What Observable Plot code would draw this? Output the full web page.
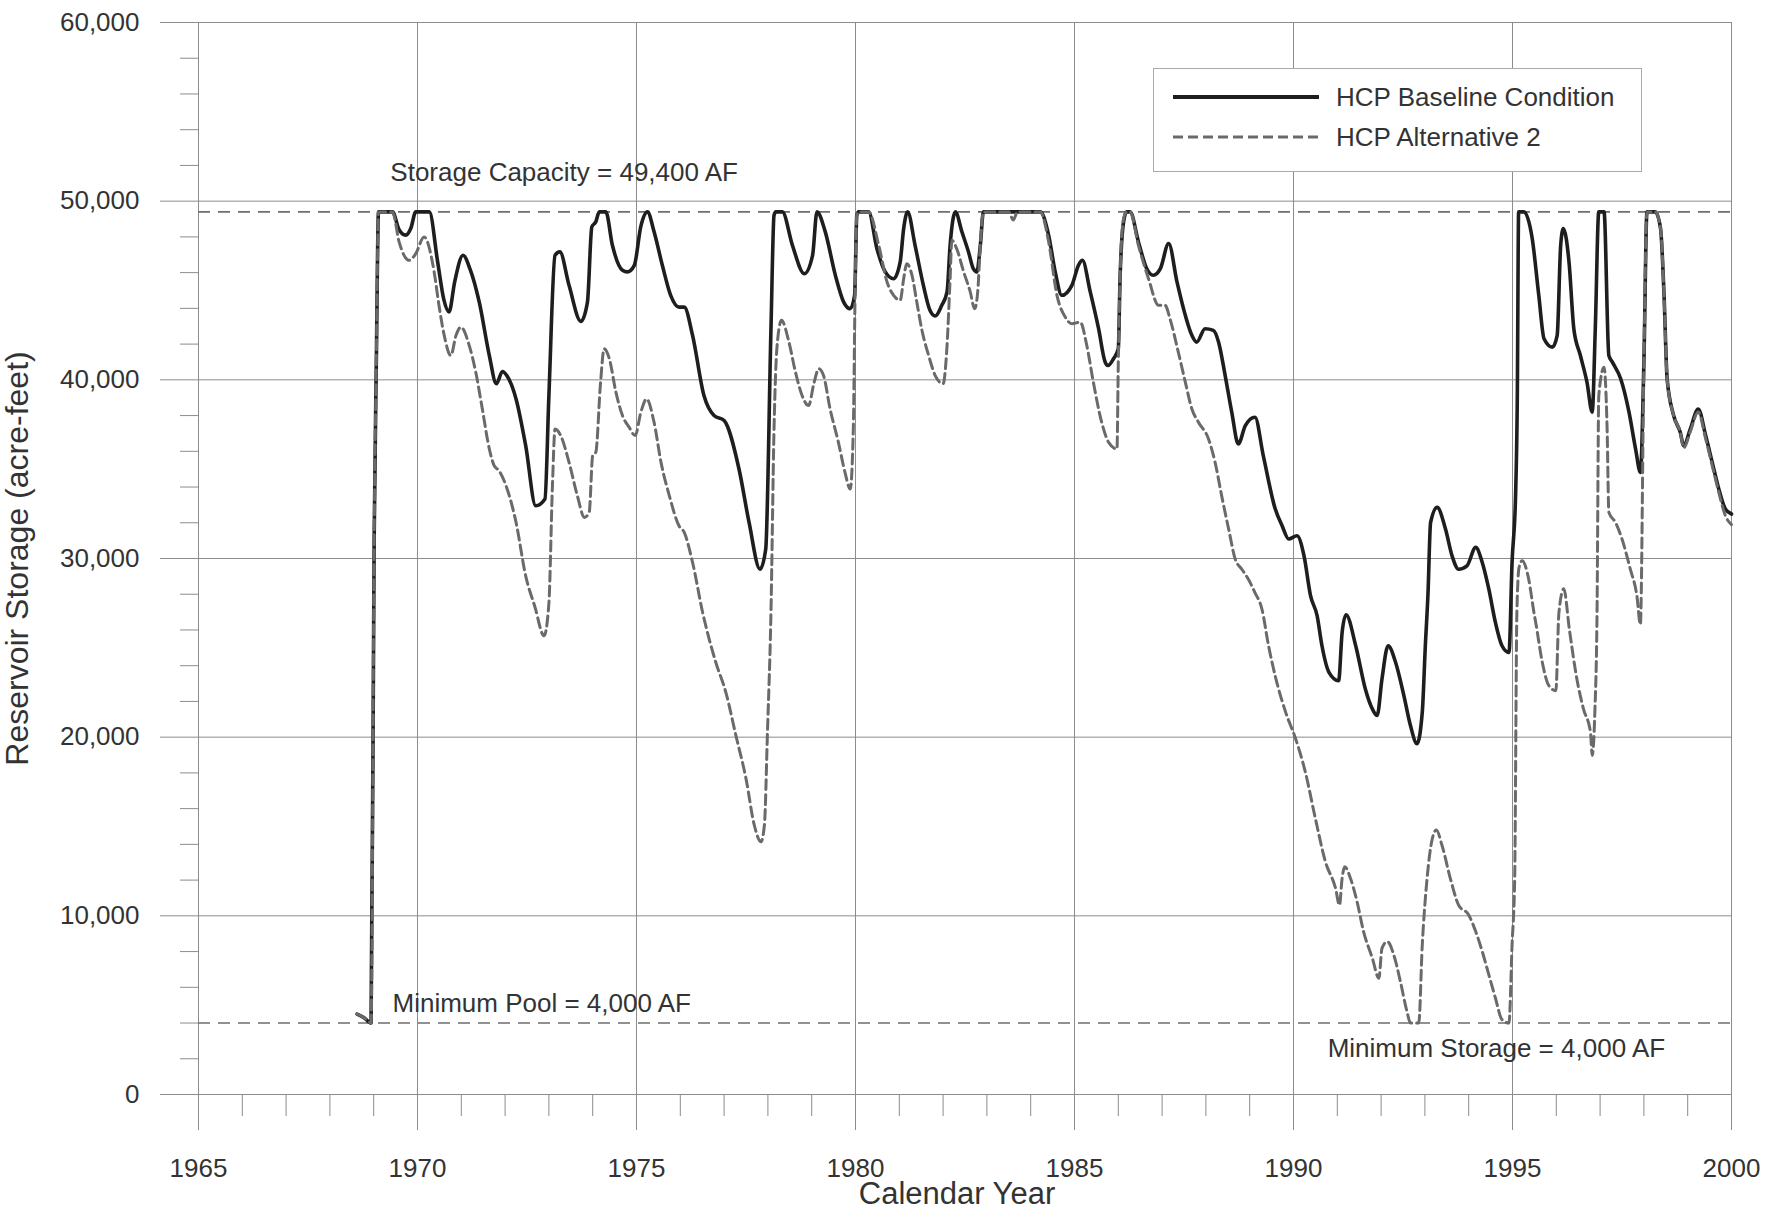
<!DOCTYPE html>
<html><head><meta charset="utf-8">
<script src="https://cdn.jsdelivr.net/npm/d3@7"></script>
<script src="https://cdn.jsdelivr.net/npm/@observablehq/plot@0.6"></script>
<style>
body{margin:0;background:#fff;}
#wrap{position:relative;width:1768px;height:1215px;font-family:"Liberation Sans",Arial,sans-serif;color:#333;}
#legend{position:absolute;left:1153px;top:68px;width:489px;height:104px;border:1px solid #aaa;background:#fff;box-sizing:border-box;}
#legend .row{position:absolute;left:0;height:30px;width:480px;}
#legend svg{position:absolute;left:19px;top:0;}
#legend span{position:absolute;left:182px;top:0;font-size:26px;line-height:30px;white-space:nowrap;color:#333;}
</style></head><body>
<div id="wrap"><div id="chart"></div>
<div id="legend">
 <div class="row" style="top:13px"><svg width="146" height="30"><line x1="0" x2="146" y1="15" y2="15" stroke="#1e1e1e" stroke-width="4"/></svg><span>HCP Baseline Condition</span></div>
 <div class="row" style="top:53px"><svg width="146" height="30"><line x1="0" x2="146" y1="15" y2="15" stroke="#6a6a6a" stroke-width="3" stroke-dasharray="10,5"/></svg><span>HCP Alternative 2</span></div>
</div>
</div>
<script>
// ---- data ----
const baseYears = [1968.62,1968.78,1968.90,1968.94,1969.01,1969.06,1969.11,1969.43,1969.58,1969.73,1969.85,1969.96,1970.27,1970.46,1970.60,1970.72,1970.85,1971.04,1971.20,1971.41,1971.64,1971.80,1971.94,1972.05,1972.25,1972.47,1972.70,1972.91,1973.00,1973.14,1973.25,1973.46,1973.73,1973.88,1973.98,1974.07,1974.15,1974.30,1974.45,1974.68,1974.79,1974.95,1975.10,1975.25,1975.40,1975.59,1975.78,1975.97,1976.09,1976.28,1976.54,1976.77,1977.00,1977.34,1977.57,1977.82,1977.95,1978.07,1978.14,1978.18,1978.33,1978.56,1978.83,1979.02,1979.12,1979.31,1979.54,1979.73,1979.88,1979.98,1980.03,1980.07,1980.30,1980.49,1980.68,1980.87,1981.02,1981.10,1981.19,1981.36,1981.55,1981.70,1981.82,1981.97,1982.09,1982.16,1982.28,1982.43,1982.58,1982.69,1982.77,1982.85,1982.92,1984.22,1984.41,1984.56,1984.71,1984.94,1985.09,1985.18,1985.36,1985.55,1985.70,1985.76,1985.89,1986.00,1986.04,1986.12,1986.19,1986.27,1986.46,1986.65,1986.80,1986.96,1987.15,1987.34,1987.53,1987.68,1987.79,1987.98,1988.17,1988.29,1988.44,1988.59,1988.74,1988.90,1989.12,1989.31,1989.58,1989.74,1989.89,1990.08,1990.24,1990.39,1990.54,1990.65,1990.81,1991.03,1991.11,1991.20,1991.42,1991.64,1991.80,1991.91,1992.02,1992.16,1992.33,1992.52,1992.67,1992.82,1992.94,1993.01,1993.07,1993.13,1993.28,1993.47,1993.62,1993.77,1993.96,1994.16,1994.31,1994.46,1994.61,1994.76,1994.92,1994.99,1995.07,1995.11,1995.14,1995.26,1995.45,1995.60,1995.72,1995.91,1996.02,1996.10,1996.16,1996.29,1996.40,1996.55,1996.70,1996.82,1996.89,1996.97,1997.09,1997.20,1997.28,1997.47,1997.66,1997.81,1997.92,1998.00,1998.07,1998.26,1998.38,1998.46,1998.53,1998.68,1998.83,1998.91,1999.06,1999.24,1999.41,1999.56,1999.71,1999.86,2000.00];
const baseValues = [4500,4300,4050,4000,31000,41000,49400,49400,48400,48100,48500,49400,49400,46600,44500,43800,45500,46970,46200,44350,41360,39780,40470,40200,38930,36320,32950,33330,39120,46970,47160,45290,43270,44350,48560,48840,49400,49400,47530,46130,46040,46410,48600,49400,48300,46410,44730,44070,44070,42490,39120,38000,37720,35010,32020,29400,30520,42860,49210,49400,49400,47530,45940,46970,49400,48280,45850,44350,43980,44730,49210,49400,49400,47340,46040,45660,46600,48470,49400,47530,45290,43890,43570,44170,44920,47530,49400,48280,47160,46220,46040,47530,49400,49400,48090,46040,44730,45290,46410,46690,44920,42860,40990,40800,41180,41740,45660,48840,49400,49400,47720,46220,45850,46220,47630,45480,43610,42490,42110,42860,42770,42110,40240,38190,36410,37440,37910,35760,32800,31830,31090,31270,30150,27910,26790,25115,23630,23160,25860,26850,25115,22700,21580,21210,23260,25115,24190,22330,20650,19630,21395,25115,28000,32020,32860,31650,30150,29400,29590,30620,29780,28280,26420,25115,24740,29780,33510,39120,49400,49400,47910,44730,42300,41830,42490,47530,48470,46600,42860,41360,39870,38190,42860,49400,49400,41360,40990,40060,38190,36130,34820,40990,49400,49400,48470,44730,40060,38000,37070,36320,37250,38370,36880,35380,33890,32770,32490];

const alt2Years = [1968.62,1968.78,1968.90,1968.94,1969.01,1969.06,1969.11,1969.43,1969.58,1969.81,1969.96,1970.15,1970.38,1970.49,1970.61,1970.76,1970.88,1970.99,1971.18,1971.33,1971.48,1971.64,1971.75,1971.86,1972.02,1972.25,1972.47,1972.68,1972.89,1973.00,1973.08,1973.14,1973.27,1973.46,1973.65,1973.81,1973.92,1974.00,1974.07,1974.18,1974.26,1974.38,1974.53,1974.68,1974.83,1974.97,1975.10,1975.23,1975.40,1975.56,1975.75,1975.97,1976.09,1976.28,1976.51,1976.81,1977.04,1977.27,1977.50,1977.69,1977.84,1977.92,1977.99,1978.07,1978.14,1978.21,1978.31,1978.48,1978.63,1978.78,1978.93,1979.05,1979.16,1979.27,1979.42,1979.61,1979.76,1979.88,1979.95,1979.99,1980.03,1980.07,1980.30,1980.53,1980.72,1980.87,1981.02,1981.10,1981.17,1981.29,1981.40,1981.51,1981.67,1981.82,1982.00,1982.09,1982.16,1982.20,1982.31,1982.47,1982.62,1982.72,1982.79,1982.85,1982.92,1983.50,1983.60,1983.70,1984.22,1984.41,1984.60,1984.79,1984.94,1985.13,1985.28,1985.43,1985.62,1985.78,1985.97,1986.00,1986.04,1986.12,1986.19,1986.27,1986.46,1986.69,1986.92,1987.07,1987.18,1987.37,1987.53,1987.68,1987.83,1988.06,1988.21,1988.36,1988.52,1988.67,1988.82,1988.97,1989.12,1989.28,1989.43,1989.59,1989.82,1990.05,1990.27,1990.50,1990.73,1990.96,1991.05,1991.11,1991.17,1991.30,1991.45,1991.60,1991.80,1991.95,1992.02,1992.14,1992.29,1992.44,1992.59,1992.67,1992.86,1992.94,1993.05,1993.17,1993.26,1993.39,1993.58,1993.77,1994.00,1994.16,1994.31,1994.46,1994.61,1994.76,1994.92,1994.99,1995.05,1995.10,1995.15,1995.22,1995.37,1995.49,1995.53,1995.68,1995.83,1995.99,1996.06,1996.17,1996.30,1996.47,1996.62,1996.78,1996.82,1996.88,1996.93,1996.97,1997.09,1997.16,1997.20,1997.35,1997.50,1997.69,1997.84,1997.92,1998.00,1998.07,1998.26,1998.38,1998.46,1998.53,1998.68,1998.83,1998.91,1999.06,1999.24,1999.41,1999.56,1999.71,1999.86,2000.00];
const alt2Values = [4500,4300,4050,4000,31000,41000,49400,49400,47720,46690,47060,48000,46040,44170,42490,41360,42490,42950,41930,40430,38370,36130,35200,34920,34080,32020,29030,27300,25670,27500,34000,37250,36880,35380,33510,32300,32580,35760,35940,39870,41740,41180,39310,38000,37350,36880,38190,38930,37630,35380,33510,31830,31460,29780,26980,24190,22510,20090,17680,15070,14140,15070,20280,27000,37250,41920,43330,42110,40430,39120,38560,39800,40620,40240,38370,36500,34820,33890,37250,44730,49210,49400,49400,47530,45480,44730,44450,45660,46500,45850,44350,42860,41360,40240,39780,41930,45660,47810,47340,46040,44920,43980,44920,47530,49400,49400,48950,49400,49400,47720,44730,43510,43140,43230,41930,39870,37630,36500,36130,40990,45660,49000,49400,49400,47530,45660,44170,44170,43420,41550,39870,38370,37630,36690,35380,33510,31640,29960,29400,28840,28090,27160,25120,23350,21400,19900,18050,15440,13020,11540,10600,12100,12750,12100,10800,9120,7630,6510,8180,8560,7810,6330,4650,4000,4000,8370,12100,14330,14800,13950,12100,10600,10050,9120,8000,6700,5400,4190,4000,8370,12100,26975,29500,29870,28840,26970,26420,24190,22880,22600,26975,28300,26000,23255,21580,20280,18980,21400,26975,39120,40710,37250,32580,32020,31090,29400,27910,26300,40990,49400,49400,48470,44730,40060,38000,37070,36200,37100,38200,36700,35200,33700,32400,31900];

const xMajor = [1965,1970,1975,1980,1985,1990,1995,2000];
const xMinor = d3.range(1966,2000).filter(y => y % 5 !== 0);
const yMajor = [0,10000,20000,30000,40000,50000,60000];
const yMinor = d3.range(2000,60000,2000).filter(v => v % 10000 !== 0);
const refValues = [49400, 4000];
const annoTexts = ["Storage Capacity = 49,400 AF", "Minimum Pool = 4,000 AF", "Minimum Storage = 4,000 AF"];
const annoYears = [1969.38, 1969.43, 1990.78];
const annoValues = [49400, 4000, 4000];
const xTitle = "Calendar Year";
const yTitle = "Reservoir Storage (acre-feet)";

// ---- build ----
const base = baseYears.map((x, i) => ({year: x, value: baseValues[i]}));
const alt2 = alt2Years.map((x, i) => ({year: x, value: alt2Values[i]}));
const annos = annoTexts.map((t, i) => ({text: t, year: annoYears[i], value: annoValues[i]}));
const gridC = "#8c8c8c";
const txtC = "#333";

const chart = Plot.plot({
  width: 1768, height: 1215,
  marginLeft: 198, marginRight: 37, marginTop: 22, marginBottom: 121,
  style: {fontFamily: "'Liberation Sans', Arial, sans-serif", background: "#fff", color: txtC},
  x: {domain: [1965, 2000]},
  y: {domain: [0, 60000]},
  marks: [
    Plot.gridX(xMajor, {stroke: gridC, strokeOpacity: 1, strokeWidth: 1}),
    Plot.gridY(yMajor, {stroke: gridC, strokeOpacity: 1, strokeWidth: 1}),
    Plot.axisX(xMinor, {tickSize: 22, text: null, stroke: gridC, label: null}),
    Plot.axisX(xMajor, {tickSize: 36, tickPadding: 28, tickFormat: d => String(d), stroke: gridC, fill: txtC, fontSize: 26, label: null}),
    Plot.axisY(yMinor, {tickSize: 18, text: null, stroke: gridC, label: null}),
    Plot.axisY(yMajor, {tickSize: 38, tickPadding: 21, tickFormat: d3.format(","), stroke: gridC, fill: txtC, fontSize: 26, label: null}),
    Plot.ruleY(refValues, {stroke: "#6e6e6e", strokeWidth: 1.6, strokeDasharray: "12,8"}),
    Plot.line(base, {x: "year", y: "value", stroke: "#1e1e1e", strokeWidth: 3.6, curve: "monotone-x", strokeLinejoin: "round"}),
    Plot.line(alt2, {x: "year", y: "value", stroke: "#6a6a6a", strokeWidth: 3, strokeDasharray: "10,5", curve: "monotone-x"}),
    Plot.text([annos[0]], {x: "year", y: "value", text: "text", textAnchor: "start", lineAnchor: "middle", dy: -39, fontSize: 26, fill: txtC}),
    Plot.text([annos[1]], {x: "year", y: "value", text: "text", textAnchor: "start", lineAnchor: "middle", dy: -19, fontSize: 26, fill: txtC}),
    Plot.text([annos[2]], {x: "year", y: "value", text: "text", textAnchor: "start", lineAnchor: "middle", dy: 26, fontSize: 26, fill: txtC}),
    Plot.text([xTitle], {frameAnchor: "bottom", textAnchor: "middle", lineAnchor: "middle", dy: 100, dx: -8, fontSize: 31, fill: txtC}),
    Plot.text([yTitle], {frameAnchor: "left", textAnchor: "middle", lineAnchor: "middle", dx: -181, rotate: -90, fontSize: 32, fill: txtC})
  ]
});
document.getElementById("chart").appendChild(chart);
</script>
</body></html>
